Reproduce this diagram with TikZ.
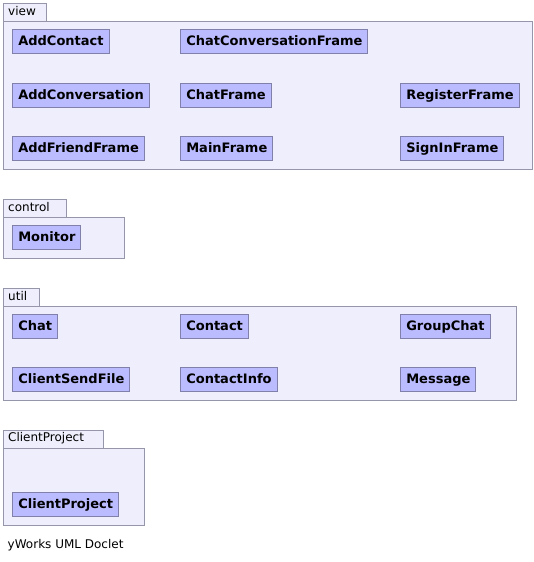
\documentclass[tikz,border=0pt]{standalone}
\usepackage{fontspec}
\setmainfont{DejaVu Sans}
\definecolor{pkgfill}{RGB}{238,238,252}
\definecolor{pkgline}{RGB}{150,150,170}
\definecolor{clsfill}{RGB}{187,187,255}
\definecolor{clsline}{RGB}{128,128,170}
\begin{document}
\begin{tikzpicture}[x=1pt,y=-1pt,
  pkgbox/.style={draw=pkgline,fill=pkgfill,line width=1pt,inner sep=0pt,anchor=north west},
  pkgtab/.style={draw=pkgline,fill=pkgfill,line width=1pt,inner sep=0pt,anchor=north west},
  pkglbl/.style={anchor=west,inner sep=0pt,font=\fontsize{12}{14}\selectfont},
  cls/.style={draw=clsline,fill=clsfill,line width=1pt,anchor=north west,inner xsep=5.5pt,inner ysep=0pt,
     minimum height=23.5pt,font=\bfseries\fontsize{13}{15}\selectfont,text height=9.5pt,text depth=2.5pt},
  credit/.style={anchor=west,inner sep=0pt,font=\fontsize{12}{14}\selectfont}]
\useasboundingbox (0,0) rectangle (534,562);
% view
\node[pkgtab,minimum width=43.5pt,minimum height=18pt] (viewtab) at (2.5,2.5) {};
\node[pkglbl] (viewlbl) at (8,11.5) {view};
\node[pkgbox,minimum width=529pt,minimum height=148pt] (view) at (2.5,20.5) {};
\node[cls] (addcontact) at (12.3,29.3) {AddContact};
\node[cls] (chatconv) at (180.3,29.3) {ChatConversationFrame};
\node[cls] (addconv) at (12.3,83.3) {AddConversation};
\node[cls] (chatframe) at (180.3,83.3) {ChatFrame};
\node[cls] (register) at (400.3,83.3) {RegisterFrame};
\node[cls] (addfriend) at (12.3,136.3) {AddFriendFrame};
\node[cls] (mainframe) at (180.3,136.3) {MainFrame};
\node[cls] (signin) at (400.3,136.3) {SignInFrame};
% control
\node[pkgtab,minimum width=63pt,minimum height=18pt] (controltab) at (2.5,198.5) {};
\node[pkglbl] (controllbl) at (8,207.5) {control};
\node[pkgbox,minimum width=121pt,minimum height=41.5pt] (control) at (2.5,216.5) {};
\node[cls] (monitor) at (12.3,225.3) {Monitor};
% util
\node[pkgtab,minimum width=36pt,minimum height=18pt] (utiltab) at (2.5,287.5) {};
\node[pkglbl] (utillbl) at (8,296.5) {util};
\node[pkgbox,minimum width=513pt,minimum height=94pt] (util) at (2.5,305.5) {};
\node[cls] (chat) at (12.3,314.3) {Chat};
\node[cls] (contact) at (180.3,314.3) {Contact};
\node[cls] (groupchat) at (400.3,314.3) {GroupChat};
\node[cls] (clientsend) at (12.3,367.3) {ClientSendFile};
\node[cls] (contactinfo) at (180.3,367.3) {ContactInfo};
\node[cls] (message) at (400.3,367.3) {Message};
% ClientProject
\node[pkgtab,minimum width=100pt,minimum height=18pt] (cptab) at (2.5,429.5) {};
\node[pkglbl] (cplbl) at (8,438.5) {ClientProject};
\node[pkgbox,minimum width=141pt,minimum height=77pt] (cp) at (2.5,447.5) {};
\node[cls] (clientproject) at (12.3,492.3) {ClientProject};
% credit
\node[credit] (doclet) at (7.5,545) {yWorks UML Doclet};
\end{tikzpicture}
\end{document}
